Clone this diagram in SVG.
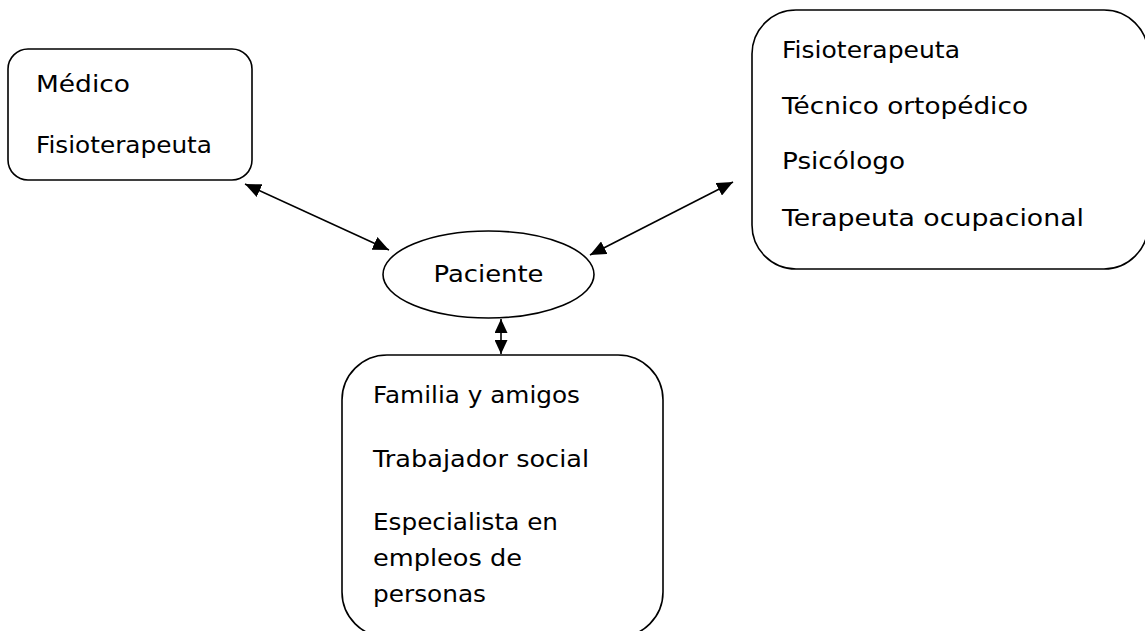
<svg xmlns="http://www.w3.org/2000/svg" width="1145" height="631" viewBox="0 0 1145 631">
<style>
.box{fill:#fff;stroke:#000;stroke-width:1.6}
.t{font-family:"DejaVu Sans","Liberation Sans",sans-serif;font-size:23px;fill:#000}
.c{stroke:#000;stroke-width:1.6;fill:none;marker-start:url(#ah);marker-end:url(#ah)}
.cv{stroke:#000;stroke-width:1.6;fill:none;marker-start:url(#ahs);marker-end:url(#ahs)}
</style>
<defs>
<marker id="ah" viewBox="0 0 16 14" refX="16" refY="7" markerWidth="16" markerHeight="14" markerUnits="userSpaceOnUse" orient="auto-start-reverse">
<path d="M0,0 L16,7 L0,14 z" fill="#000"/>
</marker>
<marker id="ahs" viewBox="0 0 14 13" refX="14" refY="6.5" markerWidth="14" markerHeight="13" markerUnits="userSpaceOnUse" orient="auto-start-reverse">
<path d="M0,0 L14,6.5 L0,13 z" fill="#000"/>
</marker>
</defs>
<rect width="1145" height="631" fill="#fff"/>
<g id="connectors">
<line class="c" x1="245" y1="184" x2="389" y2="250"/>
<line class="c" x1="733" y1="182" x2="590" y2="255"/>
<line class="cv" x1="501" y1="319" x2="501" y2="354"/>
</g>
<g id="node-medico">
<rect class="box" x="8" y="49" width="244" height="131" rx="20"/>
<text class="t" x="36" y="92" textLength="94" lengthAdjust="spacingAndGlyphs">Médico</text>
<text class="t" x="36" y="153" textLength="176" lengthAdjust="spacingAndGlyphs">Fisioterapeuta</text>
</g>
<g id="node-equipo">
<rect class="box" x="752" y="10" width="396" height="259" rx="44"/>
<text class="t" x="782" y="58" textLength="178" lengthAdjust="spacingAndGlyphs">Fisioterapeuta</text>
<text class="t" x="782" y="114" textLength="246" lengthAdjust="spacingAndGlyphs">Técnico ortopédico</text>
<text class="t" x="782" y="169" textLength="123" lengthAdjust="spacingAndGlyphs">Psicólogo</text>
<text class="t" x="782" y="226" textLength="302" lengthAdjust="spacingAndGlyphs">Terapeuta ocupacional</text>
</g>
<g id="node-paciente">
<ellipse class="box" cx="488.5" cy="274.5" rx="105.5" ry="43.5"/>
<text class="t" x="488.5" y="282" text-anchor="middle" textLength="110" lengthAdjust="spacingAndGlyphs">Paciente</text>
</g>
<g id="node-familia">
<rect class="box" x="342" y="355" width="321" height="282" rx="45"/>
<text class="t" x="373" y="403" textLength="207" lengthAdjust="spacingAndGlyphs">Familia y amigos</text>
<text class="t" x="373" y="467" textLength="216" lengthAdjust="spacingAndGlyphs">Trabajador social</text>
<text class="t" x="373" y="530" textLength="185" lengthAdjust="spacingAndGlyphs">Especialista en</text>
<text class="t" x="373" y="566" textLength="149" lengthAdjust="spacingAndGlyphs">empleos de</text>
<text class="t" x="373" y="602" textLength="113" lengthAdjust="spacingAndGlyphs">personas</text>
</g>
</svg>
